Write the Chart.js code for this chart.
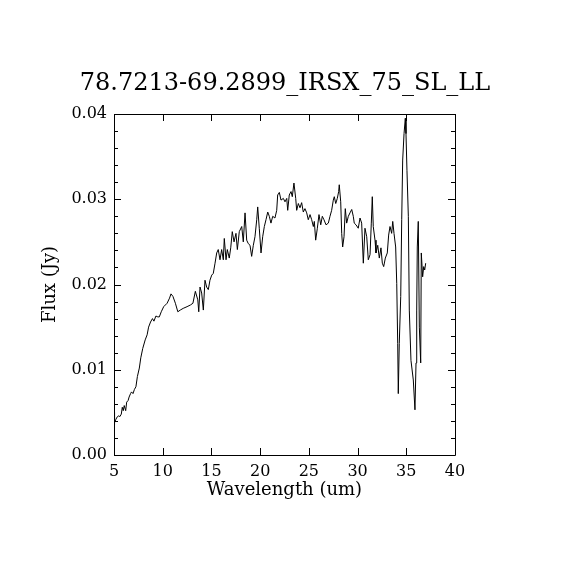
<!DOCTYPE html>
<html><head><meta charset="utf-8">
<script src="https://cdn.jsdelivr.net/npm/chart.js@4.4.0/dist/chart.umd.min.js"></script>
<style>html,body{margin:0;padding:0;background:#fff;}#wrap{width:570px;height:570px;}</style>
</head><body><div id="wrap"><canvas id="c" width="570" height="570"></canvas></div>
<script>
const titleText = "78.7213-69.2899_IRSX_75_SL_LL";
const xLabel = "Wavelength (um)";
const yLabel = "Flux (Jy)";
const xTicks = [5, 10, 15, 20, 25, 30, 35, 40];
const yTicks = [0.00, 0.01, 0.02, 0.03, 0.04];
const yMinorTicks = [0.002,0.004,0.006,0.008,0.012,0.014,0.016,0.018,0.022,0.024,0.026,0.028,0.032,0.034,0.036,0.038];

const wavelength = [
5.00,5.03,5.08,5.20,5.35,5.50,5.60,5.75,5.85,5.95,6.05,6.20,6.30,6.45,6.55,6.70,6.80,6.95,7.10,7.25,
7.40,7.60,7.75,7.95,8.20,8.40,8.55,8.75,8.95,9.10,9.30,9.50,9.65,9.85,10.10,10.45,10.70,10.85,11.05,11.30,
11.55,11.80,12.10,12.50,12.85,13.10,13.35,13.60,13.70,13.83,14.00,14.17,14.34,14.51,14.68,14.85,15.03,15.19,15.37,
15.54,15.70,15.88,16.05,16.22,16.32,16.50,16.63,16.83,16.98,17.14,17.32,17.52,17.66,17.86,18.11,18.27,18.45,18.62,18.78,
18.96,19.13,19.30,19.47,19.65,19.75,19.91,20.09,20.26,20.43,20.60,20.78,20.94,21.11,21.29,21.52,21.70,21.80,21.97,22.14,
22.38,22.55,22.73,22.83,22.99,23.17,23.30,23.47,23.65,23.75,23.92,24.09,24.26,24.43,24.60,24.78,24.94,25.12,25.29,25.46,
25.56,25.70,25.87,26.04,26.22,26.38,26.55,26.76,27.00,27.17,27.34,27.51,27.61,27.76,27.92,28.06,28.12,28.27,28.37,28.47,
28.61,28.74,28.88,29.05,29.22,29.40,29.56,29.66,29.84,30.07,30.25,30.42,30.59,30.76,30.94,31.10,31.28,31.41,31.51,31.61,
31.79,31.89,32.07,32.23,32.40,32.54,32.68,32.85,33.05,33.19,33.33,33.50,33.61,33.74,33.91,34.02,34.12,34.18,34.28,34.43,
34.53,34.63,34.77,34.90,34.97,35.07,35.21,35.31,35.48,35.72,35.89,36.00,36.07,36.13,36.23,36.34,36.48,36.54,36.68,36.79,
36.89,36.99
];
const flux = [
0.0035,0.0050,0.0038,0.0042,0.0045,0.0046,0.0045,0.0048,0.0056,0.0052,0.0058,0.0052,0.0062,0.0064,0.0068,0.0072,0.0074,0.0072,0.0077,0.0080,
0.0092,0.0102,0.0114,0.0125,0.0135,0.0141,0.0150,0.0156,0.0160,0.0157,0.0163,0.0162,0.0162,0.0168,0.0174,0.0178,0.0184,0.0189,0.0186,0.0178,
0.0168,0.0170,0.0172,0.0174,0.0176,0.0178,0.0192,0.0182,0.0168,0.0197,0.0190,0.0170,0.0205,0.0197,0.0194,0.0205,0.0211,0.0213,0.0225,
0.0237,0.0241,0.0229,0.0241,0.0229,0.0254,0.0229,0.0241,0.0231,0.0243,0.0262,0.0250,0.0260,0.0241,0.0262,0.0268,0.0250,0.0284,0.0252,0.0248,
0.0246,0.0233,0.0246,0.0256,0.0276,0.0291,0.0266,0.0237,0.0256,0.0268,0.0276,0.0285,0.0280,0.0272,0.0280,0.0278,0.0287,0.0305,0.0308,0.0299,
0.0301,0.0297,0.0301,0.0287,0.0305,0.0309,0.0303,0.0319,0.0301,0.0287,0.0295,0.0290,0.0296,0.0285,0.0289,0.0284,0.0276,0.0282,0.0276,0.0268,
0.0274,0.0252,0.0266,0.0282,0.0270,0.0280,0.0276,0.0270,0.0272,0.0280,0.0287,0.0299,0.0303,0.0295,0.0301,0.0309,0.0317,0.0297,0.0260,0.0244,
0.0256,0.0289,0.0272,0.0280,0.0284,0.0288,0.0280,0.0272,0.0270,0.0266,0.0278,0.0272,0.0225,0.0266,0.0256,0.0229,0.0235,0.0272,0.0303,0.0268,
0.0252,0.0237,0.0246,0.0231,0.0243,0.0225,0.0221,0.0231,0.0237,0.0258,0.0268,0.0260,0.0274,0.0260,0.0244,0.0201,0.0131,0.0072,0.0131,0.0186,
0.0276,0.0346,0.0377,0.0395,0.0377,0.0334,0.0280,0.0170,0.0111,0.0088,0.0053,0.0108,0.0170,0.0244,0.0274,0.0150,0.0108,0.0237,0.0209,0.0221,
0.0217,0.0225
];

const FONT = "'DejaVu Serif', 'Liberation Serif', serif";
const points = wavelength.map((w, i) => ({x: w, y: flux[i]}));

const framePlugin = {
  id: 'frame',
  afterDatasetsDraw(chart) {
    const {ctx, chartArea: a, scales: {x, y}} = chart;
    const L = a.left, R = a.right, T = a.top, B = a.bottom;
    const major = 7, minor = 4;
    ctx.save();
    ctx.strokeStyle = '#000';
    ctx.lineWidth = 1;
    ctx.beginPath();
    ctx.rect(Math.round(L) + 0.5, Math.round(T) + 0.5, Math.round(R - L), Math.round(B - T));
    xTicks.forEach(v => {
      const px = Math.round(x.getPixelForValue(v)) + 0.5;
      ctx.moveTo(px, B); ctx.lineTo(px, B - major);
      ctx.moveTo(px, T); ctx.lineTo(px, T + major);
    });
    yTicks.forEach(v => {
      const py = Math.round(y.getPixelForValue(v)) + 0.5;
      ctx.moveTo(L, py); ctx.lineTo(L + major, py);
      ctx.moveTo(R, py); ctx.lineTo(R - major, py);
    });
    yMinorTicks.forEach(v => {
      const py = Math.round(y.getPixelForValue(v)) + 0.5;
      ctx.moveTo(L, py); ctx.lineTo(L + minor, py);
      ctx.moveTo(R, py); ctx.lineTo(R - minor, py);
    });
    ctx.stroke();
    ctx.restore();
  }
};

new Chart(document.getElementById('c'), {
  type: 'scatter',
  data: {
    datasets: [{
      data: points,
      showLine: true,
      borderColor: '#000',
      borderWidth: 1,
      pointRadius: 0,
      tension: 0,
      fill: false
    }]
  },
  options: {
    responsive: false,
    devicePixelRatio: 1,
    animation: false,
    layout: {padding: {top: 0, right: 0, bottom: 0, left: 0}},
    plugins: {
      legend: {display: false},
      tooltip: {enabled: false},
      title: {
        display: true,
        text: titleText,
        fullSize: true,
        color: '#000',
        font: {family: FONT, size: 24, weight: 'normal'},
        padding: {top: 69.6, bottom: 15.6}
      }
    },
    scales: {
      x: {
        type: 'linear',
        min: 5, max: 40,
        afterBuildTicks: s => { s.ticks = xTicks.map(v => ({value: v})); },
        afterFit: s => { s.height = 115; },
        grid: {display: false, drawTicks: false},
        border: {display: false},
        ticks: {color: '#000', font: {family: FONT, size: 16}, padding: 7, maxRotation: 0, autoSkip: false,
                callback: v => String(v)},
        title: {display: true, text: xLabel, color: '#000', font: {family: FONT, size: 18}, padding: {top: 0, bottom: 69}}
      },
      y: {
        type: 'linear',
        position: 'left',
        min: 0, max: 0.04,
        afterBuildTicks: s => { s.ticks = yTicks.map(v => ({value: v})); },
        afterFit: s => { s.width = 114; },
        grid: {display: false, drawTicks: false},
        border: {display: false},
        ticks: {color: '#000', font: {family: FONT, size: 16}, padding: 7, autoSkip: false,
                callback: v => v.toFixed(2)},
        title: {display: true, text: yLabel, color: '#000', font: {family: FONT, size: 18}, padding: {top: 40, bottom: 0}}
      },
      yRight: {
        type: 'linear',
        position: 'right',
        min: 0, max: 0.04,
        afterFit: s => { s.width = 115; },
        grid: {display: false, drawTicks: false},
        border: {display: false},
        ticks: {display: false},
        title: {display: false}
      }
    }
  },
  plugins: [framePlugin]
});
</script>
</body></html>
